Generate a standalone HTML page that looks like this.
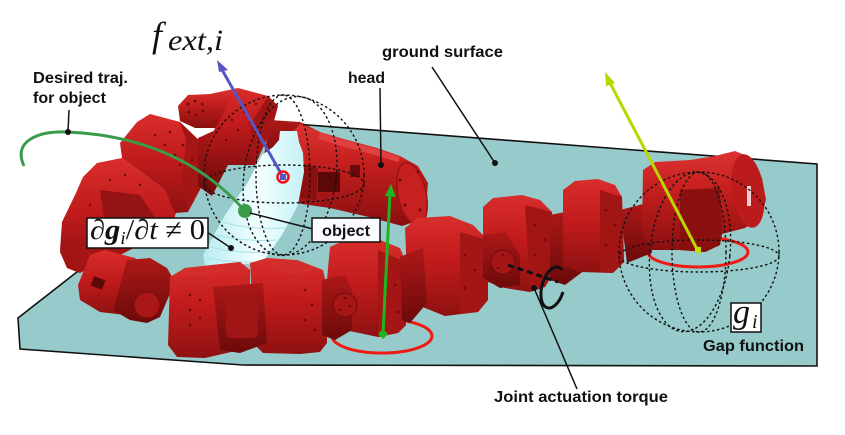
<!DOCTYPE html>
<html><head><meta charset="utf-8"><style>
html,body{margin:0;padding:0;background:#fff;width:845px;height:435px;overflow:hidden}
svg{display:block}
.lbl{font-family:"Liberation Sans",Arial,sans-serif;font-weight:bold;font-size:16px;fill:#111}
</style></head><body>
<svg width="845" height="435" viewBox="0 0 845 435" xmlns="http://www.w3.org/2000/svg">
<defs>
<linearGradient id="g" x1="0" y1="0" x2="0" y2="1"><stop offset="0" stop-color="#d82e2c"/><stop offset="0.45" stop-color="#c21b1c"/><stop offset="1" stop-color="#8e1111"/></linearGradient>
<linearGradient id="gd" x1="0" y1="0" x2="0" y2="1"><stop offset="0" stop-color="#ae1818"/><stop offset="1" stop-color="#6c0a0a"/></linearGradient>
<linearGradient id="gh" x1="0" y1="0" x2="0" y2="1"><stop offset="0" stop-color="#dc3432"/><stop offset="0.35" stop-color="#c8201f"/><stop offset="1" stop-color="#880f0f"/></linearGradient>
<linearGradient id="bt" x1="0" y1="0" x2="1" y2="0"><stop offset="0" stop-color="#b8ecf2"/><stop offset="0.55" stop-color="#f2ffff"/><stop offset="1" stop-color="#c6f1f5"/></linearGradient>
</defs>

<!-- ground plane -->
<polygon points="269,122 817,164 817,366 243,365 20,349 18,318" fill="#97cbcb" stroke="#111" stroke-width="1.6"/>

<!-- floor torque rings -->
<ellipse cx="382" cy="336" rx="50" ry="17" fill="none" stroke="#ee1c14" stroke-width="3"/>
<ellipse cx="698" cy="252" rx="50" ry="15" fill="none" stroke="#ee1c14" stroke-width="3"/>

<!-- upper chain -->
<polygon points="83,177 97,163 122,158 165,190 177,210 172,225 150,240 120,255 95,264 80,273 67,268 60,250 62,222 75,195" fill="url(#g)"/>
<polygon points="62,240 80,238 100,250 95,264 80,273 67,268 60,252" fill="#a31515"/>
<polygon points="100,190 140,195 160,225 130,240 105,225" fill="#951313"/>
<polygon points="137,122 150,114 180,122 207,148 205,180 188,212 175,213 165,190 122,158 120,143" fill="url(#g)"/>
<polygon points="180,122 207,148 205,180 188,212 182,180 186,140" fill="#a41616"/>
<polygon points="198,138 220,128 228,165 212,196 198,186" fill="url(#gd)"/>
<polygon points="178,106 188,95 210,94 238,88 230,110 215,128 195,128 180,121" fill="url(#gh)"/>
<polygon points="238,88 268,96 278,106 272,128 255,165 218,165 205,150 215,128" fill="url(#g)"/>
<polygon points="268,96 278,106 272,128 255,165 250,125" fill="#a31515"/>
<polygon points="270,120 300,122 320,132 322,162 300,172 262,168" fill="url(#gd)"/>
<polygon points="300,124 320,132 340,138 377,148 400,156 418,166 428,183 426,207 414,222 402,226 373,218 330,208 295,203 262,195 258,170" fill="url(#gh)"/>
<polygon points="320,133 340,139 377,149 400,157 398,162 375,155 338,145 318,139" fill="#e04040"/>
<ellipse cx="412" cy="194" rx="14" ry="32" transform="rotate(-12 412 194)" fill="#c62020" stroke="#9a1313" stroke-width="1.5"/>
<rect x="318" y="172" width="22" height="20" fill="#5a0808"/>
<rect x="350" y="165" width="10" height="12" fill="#6a0a0a"/>
<polygon points="290,160 318,168 316,200 290,196" fill="#8a1010"/>

<!-- holes upper -->
<g fill="#6e0a0a">
<circle cx="188" cy="104" r="1.4"/><circle cx="195" cy="101" r="1.4"/><circle cx="202" cy="104" r="1.4"/><circle cx="203" cy="111" r="1.4"/><circle cx="196" cy="115" r="1.4"/><circle cx="189" cy="112" r="1.4"/>
<circle cx="232" cy="120" r="1.2"/><circle cx="238" cy="130" r="1.2"/><circle cx="244" cy="112" r="1.2"/><circle cx="250" cy="122" r="1.2"/><circle cx="256" cy="104" r="1.2"/><circle cx="226" cy="140" r="1.2"/>
<circle cx="155" cy="135" r="1.3"/><circle cx="165" cy="145" r="1.3"/><circle cx="175" cy="155" r="1.3"/><circle cx="170" cy="132" r="1.3"/><circle cx="183" cy="145" r="1.3"/><circle cx="180" cy="165" r="1.3"/><circle cx="192" cy="160" r="1.3"/>
<circle cx="110" cy="180" r="1.2"/><circle cx="125" cy="175" r="1.2"/><circle cx="140" cy="185" r="1.2"/><circle cx="90" cy="205" r="1.2"/>
<circle cx="400" cy="180" r="1.5"/><circle cx="405" cy="205" r="1.5"/><circle cx="418" cy="172" r="1.5"/><circle cx="420" cy="210" r="1.5"/>
</g>

<!-- bottle -->
<polygon points="280,131 297,131 299,142 303,153 304,172 298,205 282,235 262,263 205,266 203,255 225,215 248,182 262,155 273,147 279,140" fill="url(#bt)"/>
<g stroke="#a9e2e8" stroke-width="1" fill="none">
<path d="M222,222 Q250,230 285,228"/><path d="M215,235 Q245,242 276,240"/><path d="M210,247 Q238,254 268,252"/><path d="M207,258 Q232,263 262,262"/>
</g>

<!-- lower chain -->
<polygon points="90,255 105,250 135,258 150,270 125,315 100,312 80,300 78,285" fill="url(#g)"/>
<rect x="92" y="278" width="12" height="10" fill="#5e0808" transform="rotate(20 98 283)"/>
<polygon points="127,260 150,258 167,268 175,282 160,317 147,323 130,320 113,310" fill="url(#gd)"/>
<circle cx="147" cy="305" r="13" fill="#aa1717" stroke="#7a0c0c"/>
<polygon points="170,277 185,268 240,262 250,270 250,335 240,350 205,358 177,357 168,345" fill="url(#g)"/>
<polygon points="170,277 185,268 240,262 250,270 205,276" fill="#d42e2c"/>
<polygon points="250,263 267,258 297,260 323,270 327,287 327,343 320,352 300,354 263,353 255,345" fill="url(#g)"/>
<polygon points="255,265 297,260 323,270 290,274" fill="#d42e2c"/>
<polygon points="213,287 263,283 267,343 240,353 220,350" fill="url(#gd)"/>
<rect x="226" y="298" width="32" height="40" rx="6" fill="#a01515"/>
<polygon points="330,247 345,240 380,240 400,248 406,262 406,325 398,333 378,337 345,330 330,325 326,290" fill="url(#g)"/>
<polygon points="378,250 406,262 406,325 398,333 378,337" fill="#a41515"/>
<polygon points="322,280 345,275 352,290 352,330 335,340 322,335" fill="url(#gd)"/>
<circle cx="345" cy="305" r="12" fill="#a61616" stroke="#700b0b"/>
<polygon points="405,228 418,218 450,216 473,225 488,240 488,300 478,312 445,316 425,308 408,300" fill="url(#g)"/>
<polygon points="400,257 423,247 427,303 410,323 402,320" fill="url(#gd)"/>
<polygon points="460,232 488,240 488,300 478,312 460,314" fill="#a41515"/>
<polygon points="483,207 493,198 522,195 540,200 552,212 555,270 545,287 530,292 505,288 488,282 483,250" fill="url(#g)"/>
<polygon points="525,205 552,212 555,270 545,287 530,292" fill="#a21515"/>
<polygon points="483,235 505,232 520,255 520,285 500,288 483,278" fill="url(#gd)"/>
<circle cx="503" cy="262" r="12" fill="#a41616" stroke="#700b0b"/>
<polygon points="550,215 575,210 585,225 585,270 565,285 550,280" fill="url(#gd)"/>
<polygon points="563,190 575,181 598,179 615,185 622,197 624,262 613,273 580,272 563,265" fill="url(#g)"/>
<polygon points="600,190 622,197 624,262 613,273 600,272" fill="#a21515"/>
<polygon points="620,210 647,203 652,253 627,263" fill="url(#gd)"/>
<polygon points="643,170 655,162 690,160 715,156 735,151 750,157 762,178 766,200 760,218 745,228 722,234 720,245 705,252 680,250 650,250 642,230" fill="url(#gh)"/>
<ellipse cx="748" cy="191" rx="16" ry="37" transform="rotate(-8 748 191)" fill="#bc1b1b"/>
<rect x="747" y="186" width="4" height="20" fill="#f0d0d0"/>
<polygon points="680,190 720,188 722,234 720,245 705,252 680,250" fill="#8a1010"/>

<!-- holes lower -->
<g fill="#6e0a0a">
<circle cx="190" cy="295" r="1.3"/><circle cx="190" cy="310" r="1.3"/><circle cx="190" cy="325" r="1.3"/><circle cx="200" cy="300" r="1.3"/><circle cx="200" cy="318" r="1.3"/>
<circle cx="305" cy="290" r="1.3"/><circle cx="312" cy="305" r="1.3"/><circle cx="305" cy="320" r="1.3"/><circle cx="315" cy="330" r="1.3"/>
<circle cx="385" cy="270" r="1.3"/><circle cx="395" cy="285" r="1.3"/><circle cx="385" cy="300" r="1.3"/><circle cx="398" cy="312" r="1.3"/>
<circle cx="465" cy="255" r="1.3"/><circle cx="475" cy="270" r="1.3"/><circle cx="465" cy="288" r="1.3"/>
<circle cx="535" cy="225" r="1.3"/><circle cx="545" cy="240" r="1.3"/><circle cx="535" cy="255" r="1.3"/>
<circle cx="606" cy="210" r="1.3"/><circle cx="615" cy="225" r="1.3"/><circle cx="606" cy="245" r="1.3"/>
<circle cx="345" cy="298" r="1.2"/><circle cx="350" cy="306" r="1.2"/><circle cx="340" cy="310" r="1.2"/><circle cx="503" cy="255" r="1.2"/><circle cx="510" cy="265" r="1.2"/><circle cx="498" cy="268" r="1.2"/>
</g>

<!-- dotted spheres -->
<g fill="none" stroke="#111" stroke-width="1.4" stroke-dasharray="2.5 2.5">
<circle cx="284" cy="175" r="80"/>
<ellipse cx="284" cy="184" rx="80" ry="19"/>
<ellipse cx="283" cy="175" rx="27" ry="80"/>
<ellipse cx="290" cy="176" rx="46" ry="80" transform="rotate(8 290 176)"/>
<circle cx="699" cy="252" r="80"/>
<ellipse cx="699" cy="256" rx="80" ry="16"/>
<ellipse cx="699" cy="252" rx="27" ry="80"/>
<ellipse cx="690" cy="252" rx="40" ry="80" transform="rotate(6 690 252)"/>
</g>

<!-- joint torque -->
<line x1="508" y1="265" x2="558" y2="282" stroke="#111" stroke-width="3" stroke-dasharray="6 4"/>
<path d="M562,270 A11,21 15 1 0 563,292" fill="none" stroke="#111" stroke-width="3"/>

<!-- arrows -->
<line x1="283" y1="177" x2="221" y2="68" stroke="#5656c2" stroke-width="3"/>
<polygon points="217,60 228,70 219,72" fill="#5656c2"/>
<circle cx="283" cy="177" r="5.5" fill="none" stroke="#ee1010" stroke-width="2.5"/>
<rect x="280" y="174" width="6" height="6" fill="#5656c2"/>

<line x1="698" y1="251" x2="609" y2="81" stroke="#b9d600" stroke-width="3"/>
<polygon points="605,72 615,83 606,86" fill="#b9d600"/>
<rect x="695" y="247" width="6" height="6" fill="#c4dc00"/>

<line x1="383" y1="334" x2="390" y2="193" stroke="#20b420" stroke-width="3"/>
<polygon points="391,184 396,197 385,196" fill="#20b420"/>
<polygon points="383,329 388,334 383,339 378,334" fill="#20b420"/>

<!-- desired trajectory -->
<path d="M24,166 C12,140 40,131 67,132 C140,135 200,160 245,211" fill="none" stroke="#3a9c4a" stroke-width="3"/>
<circle cx="245" cy="211" r="7" fill="#3a9c4a"/>

<!-- pointers -->
<g stroke="#111" stroke-width="1.5">
<line x1="69" y1="110" x2="68" y2="132"/>
<line x1="380" y1="88" x2="381" y2="165"/>
<line x1="432" y1="67" x2="495" y2="163"/>
<line x1="250" y1="213" x2="313" y2="229"/>
<line x1="207" y1="232" x2="231" y2="248"/>
<line x1="534" y1="288" x2="577" y2="389"/>
</g>
<g fill="#111">
<circle cx="68" cy="132" r="3"/><circle cx="381" cy="165" r="3"/><circle cx="495" cy="163" r="3"/><circle cx="231" cy="248" r="3"/><circle cx="534" cy="288" r="3"/>
</g>

<!-- labels -->
<text x="152" y="47" font-family="Liberation Serif,serif" font-style="italic" font-size="36" fill="#111">f</text>
<text x="168" y="50" font-family="Liberation Serif,serif" font-style="italic" font-size="30" fill="#111" textLength="55" lengthAdjust="spacingAndGlyphs">ext,i</text>

<text class="lbl" x="382" y="57" textLength="121" lengthAdjust="spacingAndGlyphs">ground surface</text>
<text class="lbl" x="33" y="83" textLength="95" lengthAdjust="spacingAndGlyphs">Desired traj.</text>
<text class="lbl" x="33" y="103">for object</text>
<text class="lbl" x="348" y="83" textLength="37" lengthAdjust="spacingAndGlyphs">head</text>

<rect x="312" y="218" width="68" height="24" fill="#fafaff" stroke="#111" stroke-width="1.5"/>
<text class="lbl" x="322" y="236" textLength="48" lengthAdjust="spacingAndGlyphs">object</text>

<rect x="87" y="218" width="121" height="30" fill="#fff" stroke="#111" stroke-width="1.5"/>
<text x="90" y="239" font-family="Liberation Serif,DejaVu Serif,serif" font-size="28" fill="#111" textLength="115" lengthAdjust="spacingAndGlyphs">∂<tspan font-weight="bold" font-style="italic">g</tspan><tspan font-size="18" font-style="italic" dy="5">i</tspan><tspan dy="-5">/∂</tspan><tspan font-style="italic">t</tspan> ≠ 0</text>

<rect x="731" y="303" width="30" height="29" fill="#fff" stroke="#111" stroke-width="1.5"/>
<text x="733" y="323" font-family="Liberation Serif,serif" font-style="italic" font-size="34" fill="#111">g</text>
<text x="752" y="328" font-family="Liberation Serif,serif" font-style="italic" font-size="20" fill="#111">i</text>

<text class="lbl" x="703" y="351" textLength="101" lengthAdjust="spacingAndGlyphs">Gap function</text>
<text class="lbl" x="494" y="402" textLength="174" lengthAdjust="spacingAndGlyphs">Joint actuation torque</text>
</svg>
</body></html>
